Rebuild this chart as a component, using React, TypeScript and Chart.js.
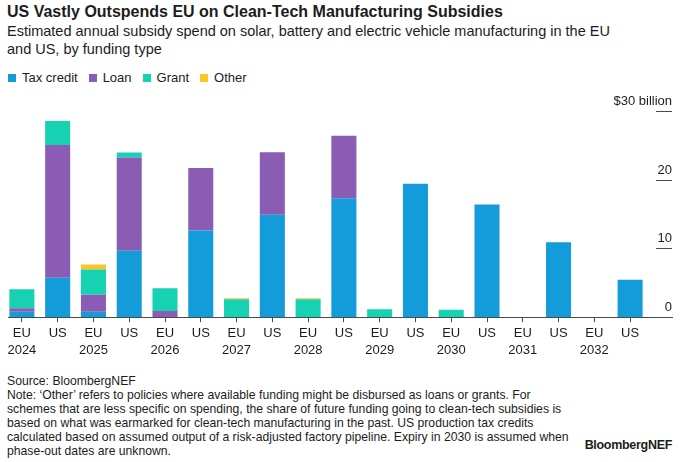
import React, { useEffect, useRef } from 'react';
import { Chart, registerables } from 'chart.js';

Chart.register(...registerables);

const categories = ['EU', 'US', 'EU', 'US', 'EU', 'US', 'EU', 'US', 'EU', 'US', 'EU', 'US', 'EU', 'US', 'EU', 'US', 'EU', 'US'];
const years = ['2024', '', '2025', '', '2026', '', '2027', '', '2028', '', '2029', '', '2030', '', '2031', '', '2032', ''];
const seriesNames = ['Tax credit', 'Loan', 'Grant', 'Other'];
const seriesColors = ['#139bda', '#8b5cb4', '#17d1b3', '#fcc51f'];
const taxCredit = [0.8, 5.75, 0.8, 9.65, 0, 12.6, 0, 14.9, 0, 17.3, 0, 19.4, 0, 16.4, 0, 10.9, 0, 5.45];
const loan = [0.5, 19.3, 2.45, 13.6, 0.9, 9.1, 0, 9.1, 0, 9.1, 0, 0, 0, 0, 0, 0, 0, 0];
const grant = [2.75, 3.5, 3.7, 0.7, 3.3, 0, 2.6, 0, 2.6, 0, 1.15, 0, 1.1, 0, 0, 0, 0, 0];
const other = [0, 0, 0.7, 0, 0, 0, 0.15, 0, 0.15, 0, 0, 0, 0, 0, 0, 0, 0, 0];
const yTickValues = [0, 10, 20, 30];
const yTickLabels = ['0', '10', '20', '$30 billion'];

const FONT = '"Liberation Sans", Arial, Helvetica, sans-serif';
const TEXT = '#1c1c1c';

const rightAxisPlugin = {
  id: 'rightAxis',
  afterDraw(chart: any) {
    const { ctx, chartArea, scales } = chart;
    const y = scales.y;
    const xEnd = chart.width - 8;
    ctx.save();
    const y0 = Math.round(y.getPixelForValue(0)) + 0.5;
    ctx.strokeStyle = '#4a4a4a';
    ctx.lineWidth = 1.2;
    ctx.beginPath();
    ctx.moveTo(chartArea.left + 4, y0);
    ctx.lineTo(xEnd + 1, y0);
    ctx.stroke();
    ctx.font = '13px ' + FONT;
    ctx.fillStyle = TEXT;
    ctx.textAlign = 'right';
    ctx.textBaseline = 'alphabetic';
    yTickValues.forEach((v, i) => {
      const py = Math.round(y.getPixelForValue(v)) + 0.5;
      if (v !== 0) {
        ctx.strokeStyle = '#4a4a4a';
        ctx.lineWidth = 1;
        ctx.beginPath();
        ctx.moveTo(xEnd - 16, py);
        ctx.lineTo(xEnd, py);
        ctx.stroke();
      }
      ctx.fillText(yTickLabels[i], xEnd, py - 7);
    });
    ctx.restore();
  },
};

export default function App() {
  const canvasRef = useRef<HTMLCanvasElement | null>(null);

  useEffect(() => {
    const labels = categories.map((c, i) => (years[i] ? [c, years[i]] : c));
    const data = [taxCredit, loan, grant, other];
    const chart = new Chart(canvasRef.current as HTMLCanvasElement, {
      type: 'bar',
      data: {
        labels,
        datasets: seriesNames.map((name, i) => ({
          label: name,
          data: data[i].map((v) => (v === 0 ? null : v)),
          backgroundColor: seriesColors[i],
          borderWidth: 0,
          barPercentage: 0.7,
          categoryPercentage: 1,
        })),
      },
      options: {
        animation: false,
        responsive: false,
        maintainAspectRatio: false,
        layout: { padding: { top: 23, right: 32, left: 4, bottom: 0 } },
        plugins: {
          legend: { display: false },
          tooltip: { enabled: false },
        },
        scales: {
          x: {
            stacked: true,
            grid: {
              display: true,
              drawOnChartArea: false,
              drawTicks: true,
              tickLength: 5,
              offset: false,
              color: '#4a4a4a',
            },
            border: { display: false },
            ticks: {
              font: { family: FONT, size: 13, lineHeight: 1.3 },
              color: TEXT,
              padding: 3,
              maxRotation: 0,
              autoSkip: false,
            },
          },
          y: {
            stacked: true,
            display: false,
            min: 0,
            max: 30,
          },
        },
      },
      plugins: [rightAxisPlugin],
    });
    return () => chart.destroy();
  }, []);

  return (
    <div style={{ position: 'absolute', left: 0, top: 0, width: 680, height: 462, fontFamily: FONT, color: TEXT, background: '#fff' }}>
      <div style={{ position: 'absolute', left: 7, top: 2, fontSize: 16, fontWeight: 'bold', whiteSpace: 'nowrap', lineHeight: '20px' }}>
        US Vastly Outspends EU on Clean-Tech Manufacturing Subsidies
      </div>
      <div style={{ position: 'absolute', left: 7, top: 22, fontSize: 14.5, whiteSpace: 'nowrap', lineHeight: '18.3px' }}>
        Estimated annual subsidy spend on solar, battery and electric vehicle manufacturing in the EU
        <br />
        and US, by funding type
      </div>
      <div style={{ position: 'absolute', left: 8, top: 69, fontSize: 13, whiteSpace: 'nowrap', lineHeight: '18px', display: 'flex' }}>
        {seriesNames.map((n, i) => (
          <span key={n} style={{ display: 'inline-flex', alignItems: 'center', marginRight: 11 }}>
            <span style={{ display: 'inline-block', width: 8, height: 8, background: seriesColors[i], marginRight: 6 }} />
            {n}
          </span>
        ))}
      </div>
      <canvas ref={canvasRef} width={680} height={274} style={{ position: 'absolute', left: 0, top: 88 }} />
      <div style={{ position: 'absolute', left: 7, top: 374, fontSize: 12.2, lineHeight: '14px', whiteSpace: 'nowrap' }}>
        Source: BloombergNEF
        <br />
        Note: ‘Other’ refers to policies where available funding might be disbursed as loans or grants. For
        <br />
        schemes that are less specific on spending, the share of future funding going to clean-tech subsidies is
        <br />
        based on what was earmarked for clean-tech manufacturing in the past. US production tax credits
        <br />
        calculated based on assumed output of a risk-adjusted factory pipeline. Expiry in 2030 is assumed when
        <br />
        phase-out dates are unknown.
      </div>
      <div style={{ position: 'absolute', right: 8, top: 437, fontSize: 12.5, fontWeight: 'bold', lineHeight: '16px', letterSpacing: -0.3 }}>
        BloombergNEF
      </div>
    </div>
  );
}
